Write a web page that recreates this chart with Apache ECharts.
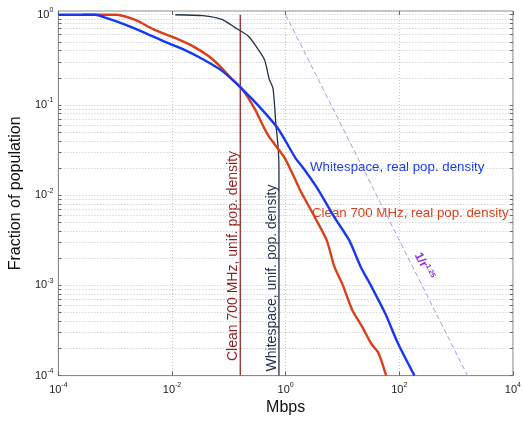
<!DOCTYPE html>
<html>
<head>
<meta charset="utf-8">
<script src="https://cdn.jsdelivr.net/npm/echarts@6/dist/echarts.min.js"></script>
<style>
html,body{margin:0;padding:0;background:#fff;}
#main{width:524px;height:421px;}
</style>
</head>
<body>
<div id="main"></div>
<script>
// values (Mbps, fraction of population)
var blueX = [1e-4, 4.5e-4, 6.7e-4, 1.49e-3, 3.27e-3, 7.2e-3, 0.0159, 0.035, 0.077, 0.17, 0.332, 0.731, 1.49, 2.04, 3.55, 7.23, 13.1, 21.0, 32.4, 56.4, 94.2, 185];
var blueY = [1, 1, 0.927, 0.777, 0.635, 0.506, 0.413, 0.321, 0.237, 0.151, 0.0982, 0.0549, 0.0258, 0.0200, 0.0121, 0.00566, 0.00317, 0.0016, 0.000968, 0.00049, 0.00023, 0.0001];

var redX = [2.7e-4, 1e-3, 2.2e-3, 4.85e-3, 0.0107, 0.0235, 0.0519, 0.114, 0.17, 0.284, 0.493, 0.966, 1.82, 3.28, 5.27, 7.23, 9.93, 14.7, 21.9, 32.4, 42.8, 58.6];
var redY = [1, 1, 0.882, 0.685, 0.56, 0.446, 0.321, 0.194, 0.151, 0.091, 0.046, 0.0258, 0.0112, 0.00566, 0.00317, 0.0016, 0.00104, 0.000542, 0.000353, 0.000224, 0.000179, 0.0001];

var navyX = [0.0114, 0.035, 0.0771, 0.129, 0.224, 0.421, 0.513, 0.601, 0.676, 0.733, 0.762, 0.762];
var navyY = [1, 0.975, 0.882, 0.72, 0.574, 0.321, 0.194, 0.151, 0.0593, 0.0357, 0.02, 0.0001];

var brownX = [0.159, 0.159];
var brownY = [1, 0.0001];

var refX = [1, 1585];
var refY = [1, 0.0001];

var xTickVals = [1e-4, 1e-2, 1, 1e2, 1e4];
var yTickVals = [1e-4, 1e-3, 1e-2, 1e-1, 1];

function pairs(xs, ys){
    var out = [];
    for (var i = 0; i < xs.length; i++) out.push([xs[i], ys[i]]);
    return out;
}

// all decade + minor positions on the y axis
var yMinor = [];
for (var e = -4; e < 0; e++) {
    for (var k = 1; k < 10; k++) yMinor.push(k * Math.pow(10, e));
}
yMinor.push(1);

function powLabel(v){
    var e = Math.log10(v);
    if (Math.abs(e - Math.round(e)) > 0.01) return '';
    return '{b|10}{s|' + Math.round(e) + '}';
}
var labelRich = {
    b: {fontSize: 11, color: '#222', fontFamily: 'Liberation Sans'},
    s: {fontSize: 7, color: '#222', fontFamily: 'Liberation Sans', padding: [0, 0, 9, 0]}
};

var myChart = echarts.init(document.getElementById('main'));
var option = {
    animation: false,
    backgroundColor: '#fff',
    grid: {left: 52, right: 6, top: 11, bottom: 41, show: true, borderColor: '#8c8c8c', borderWidth: 1},
    xAxis: [{
        type: 'log', logBase: 10, min: 1e-4, max: 1e4,
        name: 'Mbps', nameLocation: 'middle', nameGap: 24,
        nameTextStyle: {fontSize: 16, color: '#111', fontFamily: 'Liberation Sans'},
        axisLine: {lineStyle: {color: '#8c8c8c'}},
        axisTick: {inside: true, length: 4, customValues: xTickVals, lineStyle: {color: '#666'}},
        axisLabel: {customValues: xTickVals, formatter: powLabel, rich: labelRich, margin: 6},
        splitLine: {show: true, lineStyle: {color: '#c4c4c4', type: [1, 2], width: 1}}
    }, {
        type: 'log', logBase: 10, min: 1e-4, max: 1e4, position: 'top',
        axisLine: {show: false},
        axisTick: {inside: true, length: 4, customValues: xTickVals, lineStyle: {color: '#666'}},
        axisLabel: {show: false},
        splitLine: {show: false}
    }],
    yAxis: [{
        type: 'log', logBase: 10, min: 1e-4, max: 1.1,
        name: 'Fraction of population', nameLocation: 'middle', nameGap: 34,
        nameTextStyle: {fontSize: 16, color: '#111', fontFamily: 'Liberation Sans'},
        axisLine: {lineStyle: {color: '#8c8c8c'}},
        axisTick: {inside: true, length: 3, customValues: yMinor, lineStyle: {color: '#666'}},
        axisLabel: {customValues: yTickVals, formatter: powLabel, rich: labelRich, margin: 5},
        splitLine: {show: true, lineStyle: {color: '#c4c4c4', type: [1, 2], width: 1}}
    }, {
        type: 'log', logBase: 10, min: 1e-4, max: 1.1, position: 'right',
        axisLine: {show: false},
        axisTick: {inside: true, length: 3, customValues: yMinor, lineStyle: {color: '#666'}},
        axisLabel: {show: false},
        splitLine: {show: false}
    }],
    series: [{
        name: '1/r^1.25', type: 'line', showSymbol: false, data: pairs(refX, refY),
        lineStyle: {color: '#b794e0', width: 1, type: [5, 3]}
    }, {
        name: 'Clean 700 MHz, unif. pop. density', type: 'line', showSymbol: false, data: pairs(brownX, brownY),
        lineStyle: {color: '#8e2a2a', width: 1.3}
    }, {
        name: 'Whitespace, unif. pop. density', type: 'line', showSymbol: false, data: pairs(navyX, navyY),
        smooth: 0.2,
        lineStyle: {color: '#22304c', width: 1.3}
    }, {
        name: 'Clean 700 MHz, real pop. density', type: 'line', showSymbol: false, data: pairs(redX, redY),
        smooth: 0.25,
        lineStyle: {color: '#d8401a', width: 2.4}
    }, {
        name: 'Whitespace, real pop. density', type: 'line', showSymbol: false, data: pairs(blueX, blueY),
        smooth: 0.25,
        lineStyle: {color: '#1538f0', width: 2.4}
    }],
    graphic: [{
        type: 'text', x: 310, y: 167,
        style: {text: 'Whitespace, real pop. density', fill: '#1538f0', font: '13.3px "Liberation Sans"', verticalAlign: 'middle'}
    }, {
        type: 'text', x: 312, y: 213,
        style: {text: 'Clean 700 MHz, real pop. density', fill: '#d0401a', font: '13.3px "Liberation Sans"', verticalAlign: 'middle'}
    }, {
        type: 'text', x: 233, y: 256, rotation: Math.PI / 2,
        style: {text: 'Clean 700 MHz, unif. pop. density', fill: '#8e1f1f', font: '14px "Liberation Sans"', align: 'center', verticalAlign: 'middle'}
    }, {
        type: 'text', x: 272, y: 278, rotation: Math.PI / 2,
        style: {text: 'Whitespace, unif. pop. density', fill: '#22304c', font: '14px "Liberation Sans"', align: 'center', verticalAlign: 'middle'}
    }, {
        type: 'text', x: 424, y: 266, rotation: -63 * Math.PI / 180,
        style: {
            text: '{a|1/r}{b|1.25}', align: 'center', verticalAlign: 'middle',
            rich: {
                a: {fontSize: 12, fill: '#8a2be2', fontWeight: 'bold', fontFamily: 'Liberation Sans'},
                b: {fontSize: 7, fill: '#8a2be2', fontWeight: 'bold', fontFamily: 'Liberation Sans', padding: [0, 0, 7, 0]}
            }
        }
    }]
};
myChart.setOption(option);
</script>
</body>
</html>
